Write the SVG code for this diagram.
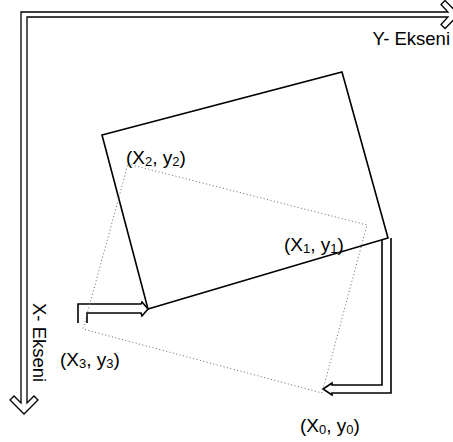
<svg xmlns="http://www.w3.org/2000/svg" width="453" height="442" viewBox="0 0 453 442">
<style>
  .lbl { font-family: "Liberation Sans", Arial, sans-serif; font-size: 19px; fill: #000; }
  .sub { font-size: 13px; }
  .ax { font-family: "Liberation Sans", Arial, sans-serif; font-size: 18.5px; fill: #000; }
  .solid { fill: none; stroke: #000; stroke-width: 1.6; stroke-linejoin: miter; }
  .dotted { fill: none; stroke: #666; stroke-width: 1; stroke-dasharray: 1 2.5; }
  .hollow { fill: #fff; stroke: #000; stroke-width: 1.3; stroke-linejoin: miter; }
  .bent { fill: none; stroke: #000; stroke-width: 1.6; stroke-linejoin: miter; }
</style>
<rect width="453" height="442" fill="#fff"/>
<g id="connectors">
  <polygon id="axes" class="hollow" points="21,12 448,12 441,4.5 445,0.5 459,14.5 445,28.5 441,24.5 448,17 27,17 27,403 34,396 38,400 24,414 10,400 14,396 21,403"/>
  <path id="arrow-left" class="bent" d="M78,323 V304 H141 L142,302 L148,309 L142,316 L141,313 H87 V323"/>
  <path id="arrow-right" class="bent" d="M391,238 V393 H332 L332,395 L323,389 L332,383 L332,385 H382 V240"/>
</g>
<g id="rect-rotated">
  <polygon class="solid" points="102,135 342,72 388,238 148,309"/>
</g>
<g id="rect-original">
  <polygon class="dotted" points="128,164 367,225 322,393 83,329"/>
</g>
<g id="label-y-axis">
  <text class="ax" x="450" y="45" text-anchor="end">Y- Ekseni</text>
</g>
<g id="label-x-axis">
  <text class="ax" transform="translate(33,303) rotate(90)">X- Ekseni</text>
</g>
<g id="label-p2">
  <text class="lbl" x="126" y="164">(X<tspan class="sub" dy="2">2</tspan><tspan dy="-2">, y</tspan><tspan class="sub" dy="2">2</tspan><tspan dy="-2">)</tspan></text>
</g>
<g id="label-p1">
  <text class="lbl" x="284" y="251">(X<tspan class="sub" dy="2">1</tspan><tspan dy="-2">, y</tspan><tspan class="sub" dy="2">1</tspan><tspan dy="-2">)</tspan></text>
</g>
<g id="label-p3">
  <text class="lbl" x="60" y="366">(X<tspan class="sub" dy="2">3</tspan><tspan dy="-2">, y</tspan><tspan class="sub" dy="2">3</tspan><tspan dy="-2">)</tspan></text>
</g>
<g id="label-p0">
  <text class="lbl" x="300" y="432">(X<tspan class="sub" dy="2">0</tspan><tspan dy="-2">, y</tspan><tspan class="sub" dy="2">0</tspan><tspan dy="-2">)</tspan></text>
</g>
</svg>
